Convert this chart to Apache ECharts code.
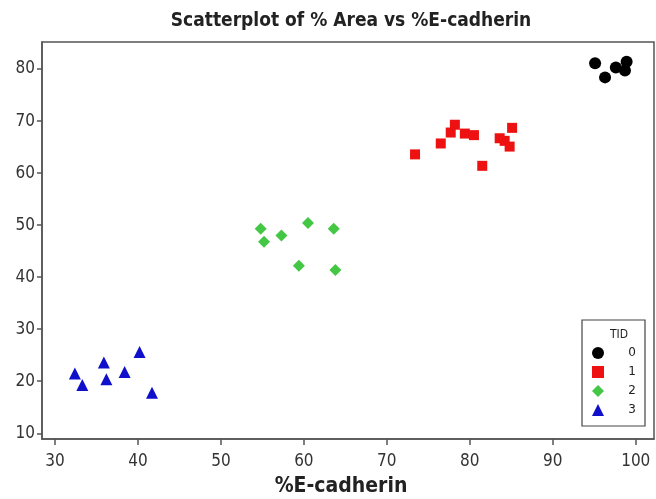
<!DOCTYPE html>
<html>
<head>
<meta charset="utf-8">
<script src="https://cdn.jsdelivr.net/npm/echarts@6/dist/echarts.min.js"></script>
<style>
  html, body { margin: 0; padding: 0; background: #fff; }
  #main { width: 656px; height: 499px; }
</style>
</head>
<body>
<div id="main"></div>
<script>
    /*分组名称 TID*/
    var tidNames = ['0', '1', '2', '3'];

    /*各组数据 [%E-cadherin, % Area]*/
    var tid0 = [[95.1, 81.1], [96.3, 78.4], [97.6, 80.3], [98.9, 81.4], [98.7, 79.7]];
    var tid1 = [[73.4, 63.6], [76.5, 65.7], [77.7, 67.8], [78.2, 69.3], [79.4, 67.6], [80.5, 67.3],
                [81.5, 61.4], [83.6, 66.7], [84.2, 66.2], [84.8, 65.1], [85.1, 68.7]];
    var tid2 = [[54.8, 49.3], [55.2, 46.8], [57.3, 48.0], [60.5, 50.4], [63.6, 49.3], [59.4, 42.2], [63.8, 41.4]];
    var tid3 = [[32.4, 21.5], [33.3, 19.3], [35.9, 23.6], [36.2, 20.4], [38.4, 21.8], [40.2, 25.6], [41.7, 17.8]];

    /*刻度*/
    var xTicks = [30, 40, 50, 60, 70, 80, 90, 100];
    var yTicks = [10, 20, 30, 40, 50, 60, 70, 80];

    var groups = [tid0, tid1, tid2, tid3];
    var symbols = ['circle', 'rect', 'diamond', 'triangle'];
    var sizes = [12, 10, 12, 12];
    var colors = ['#000000', '#ee1111', '#44c744', '#1010cc'];

    var series = [];
    for (var i = 0; i < groups.length; i++) {
        series.push({
            name: tidNames[i],
            type: 'scatter',
            data: groups[i],
            symbol: symbols[i],
            symbolSize: sizes[i],
            itemStyle: { color: colors[i], opacity: 1 },
            emphasis: { disabled: true }
        });
    }

    var axisFont = { fontFamily: 'DejaVu Sans Condensed', fontSize: 17, color: '#333' };

    var chart = echarts.init(document.getElementById('main'), null, { renderer: 'canvas' });
    var option = {
        animation: false,
        title: {
            text: 'Scatterplot of % Area vs %E-cadherin',
            left: 346,
            textAlign: 'center',
            top: 7,
            textStyle: { fontFamily: 'DejaVu Sans Condensed', fontWeight: 'bold', fontSize: 19, color: '#222' }
        },
        grid: {
            left: 42, top: 42, right: 2, bottom: 60,
            outerBoundsMode: 'none',
            containLabel: false,
            show: true,
            borderColor: '#555',
            borderWidth: 1.5,
            backgroundColor: '#fff'
        },
        xAxis: {
            type: 'value',
            min: 28.44,
            max: 102.2,
            name: '%E-cadherin',
            nameLocation: 'middle',
            nameGap: 37,
            nameTextStyle: { fontFamily: 'DejaVu Sans Condensed', fontWeight: 'bold', fontSize: 21, color: '#222', padding: [0, 14, 0, 0] },
            axisLine: { show: true, lineStyle: { color: '#555', width: 1.5 } },
            axisTick: { show: true, length: 6, customValues: xTicks, lineStyle: { color: '#555', width: 1.5 } },
            axisLabel: Object.assign({ margin: 14, customValues: xTicks }, axisFont),
            splitLine: { show: false }
        },
        yAxis: {
            type: 'value',
            min: 8.9,
            max: 85.2,
            axisLine: { show: true, lineStyle: { color: '#555', width: 1.5 } },
            axisTick: { show: true, length: 5, customValues: yTicks, lineStyle: { color: '#555', width: 1.5 } },
            axisLabel: Object.assign({ margin: 7, customValues: yTicks }, axisFont),
            splitLine: { show: false }
        },
        legend: {
            orient: 'vertical',
            left: 582,
            top: 320,
            padding: [27, 9, 10, 10],
            itemWidth: 12,
            itemHeight: 12,
            itemGap: 7,
            borderColor: '#444',
            borderWidth: 1.2,
            backgroundColor: '#fff',
            data: tidNames,
            formatter: function (name) {
                return '{v|' + name + '}';
            },
            textStyle: {
                color: '#222',
                rich: {
                    v: { fontFamily: 'DejaVu Sans', fontSize: 12, color: '#222', width: 27, align: 'right', lineHeight: 12 }
                }
            }
        },
        graphic: [{
            type: 'text',
            left: 610,
            top: 329,
            z: 100,
            style: { text: 'TID', fontFamily: 'DejaVu Sans Condensed', fontSize: 12, fill: '#222' }
        }],
        series: series
    };
    chart.setOption(option);
</script>
</body>
</html>
